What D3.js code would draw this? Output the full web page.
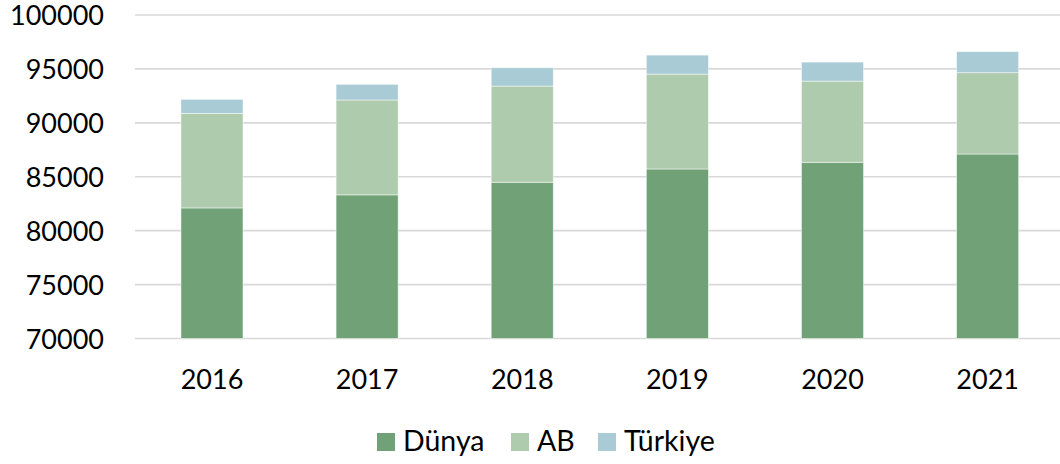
<!DOCTYPE html>
<html>
<head>
<meta charset="utf-8">
<script src="https://cdn.jsdelivr.net/npm/d3@7"></script>
<style>
  html, body { margin: 0; padding: 0; background: #fff; }
  svg { display: block; font-family: Lato, "Open Sans", sans-serif; }
</style>
</head>
<body>
<svg id="chart" width="1060" height="464"></svg>
<script>
// Years on the horizontal axis
const years = ["2016", "2017", "2018", "2019", "2020", "2021"];
// Stacked segment values per year
const dunya   = [82110, 83320, 84490, 85720, 86340, 87110];
const ab      = [8770, 8800, 8920, 8800, 7530, 7540];
const turkiye = [1300, 1450, 1700, 1760, 1760, 1950];
// Vertical axis ticks
const yTicks = [70000, 75000, 80000, 85000, 90000, 95000, 100000];

const seriesNames = ["Dünya", "AB", "Türkiye"];
const colors = { "Dünya": "#71a277", "AB": "#afcbae", "Türkiye": "#a8cbd5" };

const rows = years.map((y, i) => ({ year: y, "Dünya": dunya[i], "AB": ab[i], "Türkiye": turkiye[i] }));
const stacked = d3.stack().keys(seriesNames)(rows);

const svg = d3.select("#chart");
const x = d3.scaleBand().domain(years).range([134.4, 1065.2]).paddingInner(0.6).paddingOuter(0.3);
const y = d3.scaleLinear().domain([70000, 100000]).range([338.5, 15]);

// Gridlines
svg.append("g").selectAll("line").data(yTicks).join("line")
  .attr("x1", 135).attr("x2", 1060)
  .attr("y1", d => y(d)).attr("y2", d => y(d))
  .attr("stroke", "#d9d9d9").attr("stroke-width", 1.6);

// Y axis labels
const yAxis = d3.axisLeft(y).tickValues(yTicks).tickSize(0).tickPadding(0).tickFormat(d3.format("d"));
svg.append("g").attr("transform", "translate(104,0)").call(yAxis)
  .call(g => g.select(".domain").remove())
  .selectAll("text").attr("font-size", 27).attr("fill", "#000").attr("font-family", "Lato, sans-serif").attr("dy", "0.36em");

// Bars: the bottom segment starts at the axis minimum
svg.append("g").selectAll("g").data(stacked).join("g")
  .attr("fill", d => colors[d.key])
  .selectAll("rect").data(d => d).join("rect")
  .attr("x", d => x(d.data.year))
  .attr("width", x.bandwidth())
  .attr("y", d => y(d[1]))
  .attr("height", d => (d[0] === 0 ? y(70000) : y(d[0])) - y(d[1]))
  .attr("stroke", "#ffffff").attr("stroke-opacity", 0.6).attr("stroke-width", 0.8);

// X axis labels
const xAxis = d3.axisBottom(x).tickSize(0).tickPadding(0);
svg.append("g").attr("transform", "translate(0,389)").call(xAxis)
  .call(g => g.select(".domain").remove())
  .selectAll("text").attr("font-size", 27).attr("fill", "#000").attr("font-family", "Lato, sans-serif").attr("dy", 0);

// Legend
const legendItems = [
  { name: "Dünya", sx: 377, tx: 403 },
  { name: "AB", sx: 511, tx: 537 },
  { name: "Türkiye", sx: 598, tx: 624 }
];
const lg = svg.append("g").selectAll("g").data(legendItems).join("g");
lg.append("rect").attr("x", d => d.sx).attr("y", 433).attr("width", 18).attr("height", 18)
  .attr("fill", d => colors[d.name]);
lg.append("text").attr("x", d => d.tx).attr("y", 451).attr("font-size", 28.5)
  .attr("fill", "#000").text(d => d.name);
</script>
</body>
</html>
